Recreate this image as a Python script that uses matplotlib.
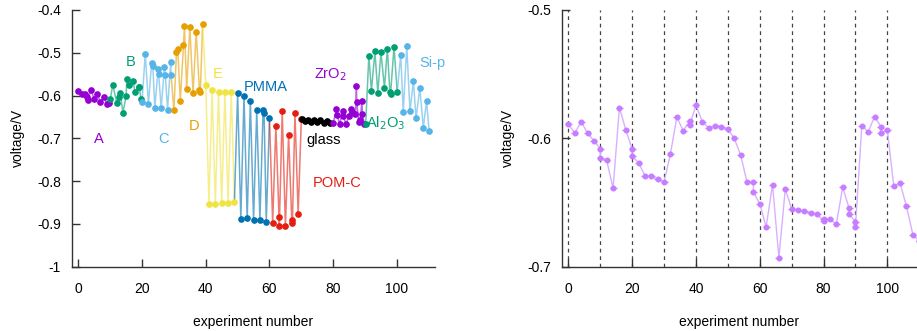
import matplotlib
matplotlib.use('Agg')
import matplotlib.pyplot as plt

plt.rcParams['font.family'] = ['Liberation Sans', 'DejaVu Sans']
plt.rcParams['axes.unicode_minus'] = False

# left panel: voltage per material (x = experiment number)
groups = ['A', 'B', 'C', 'D', 'E', 'PMMA', 'POM-C', 'glass', 'ZrO$_2$', 'Al$_2$O$_3$', 'Si-p']
colors = ['#9400d3', '#009e73', '#56b4e9', '#e69f00', '#f0e442', '#0072b2',
          '#e51e10', '#000000', '#9400d3', '#009e73', '#56b4e9']

x_A = [0, 1, 2, 2.8, 3, 4, 5, 6, 6.8, 8.2, 8.9, 9.7]
v_A = [-0.589, -0.597, -0.597, -0.603, -0.610, -0.587, -0.609, -0.596, -0.614, -0.603, -0.620, -0.617]
x_B = [10, 10.8, 12.1, 12.9, 13.1, 14, 15, 15.2, 16, 17.1, 17.8, 18.9, 19.1, 19.7]
v_B = [-0.609, -0.575, -0.618, -0.604, -0.593, -0.640, -0.601, -0.562, -0.575, -0.566, -0.591, -0.581, -0.579, -0.609]
x_C = [20, 21, 22, 23, 23.4, 24, 25, 25.2, 26, 27, 27.3, 28, 29, 29.1]
v_C = [-0.614, -0.502, -0.620, -0.523, -0.532, -0.630, -0.539, -0.550, -0.630, -0.534, -0.551, -0.633, -0.521, -0.552]
x_D = [30, 30.8, 31.2, 32, 33, 33.3, 34, 35, 36, 37, 38, 38.3, 39]
v_D = [-0.634, -0.499, -0.491, -0.613, -0.482, -0.437, -0.585, -0.439, -0.595, -0.451, -0.588, -0.591, -0.433]
x_E = [40, 41, 42, 43, 44, 45, 46, 47, 48, 49]
v_E = [-0.575, -0.853, -0.588, -0.853, -0.592, -0.852, -0.592, -0.851, -0.591, -0.848]
x_PMMA = [50, 51, 52, 53, 54, 55, 56, 57, 58, 58.3, 59, 60]
v_PMMA = [-0.593, -0.888, -0.601, -0.887, -0.613, -0.891, -0.634, -0.891, -0.634, -0.641, -0.895, -0.652]
x_POM = [61, 62, 63, 63.1, 64, 65, 66, 67, 67.2, 68, 69, 70]
v_POM = [-0.898, -0.670, -0.885, -0.904, -0.636, -0.905, -0.693, -0.892, -0.899, -0.640, -0.877, -0.655]
x_glass = [70.3, 71, 72, 73, 74, 75, 76, 77, 78, 79]
v_glass = [-0.655, -0.660, -0.656, -0.661, -0.657, -0.662, -0.658, -0.663, -0.660, -0.665]
x_ZrO2 = [80, 81, 81.2, 82, 83, 83.2, 84, 85, 85.5, 86, 87, 87.3, 87.4, 88, 88.5, 89, 89.2, 89.8]
v_ZrO2 = [-0.665, -0.632, -0.645, -0.667, -0.636, -0.647, -0.667, -0.648, -0.631, -0.639, -0.644,
          -0.577, -0.614, -0.662, -0.658, -0.613, -0.644, -0.667]
x_Al2O3 = [90.2, 91.2, 92, 93.1, 94, 95, 96.1, 97, 97.8, 98, 99.1, 100.1]
v_Al2O3 = [-0.667, -0.507, -0.589, -0.497, -0.593, -0.499, -0.582, -0.491, -0.591, -0.597, -0.486, -0.592]
x_Si = [101.2, 102, 103.1, 104.1, 105.2, 106, 107.2, 108.3, 109.3, 110.1]
v_Si = [-0.505, -0.638, -0.484, -0.636, -0.566, -0.653, -0.583, -0.675, -0.613, -0.682]

xs = [x_A, x_B, x_C, x_D, x_E, x_PMMA, x_POM, x_glass, x_ZrO2, x_Al2O3, x_Si]
vs = [v_A, v_B, v_C, v_D, v_E, v_PMMA, v_POM, v_glass, v_ZrO2, v_Al2O3, v_Si]

# label anchors (data coords)
label_x = [6.5, 16.3, 26.7, 36.4, 43.6, 58.7, 81.3, 77, 79, 96.5, 111]
label_v = [-0.701, -0.5215, -0.701, -0.671, -0.550, -0.580, -0.804, -0.704, -0.552, -0.664, -0.524]

# right panel
x_r = [0, 2, 4, 6, 8, 10, 10, 12, 14, 16, 18, 20, 20, 22, 24, 26, 28, 30, 32, 34, 36, 38, 38,
       40, 42, 44, 46, 48, 50, 52, 54, 56, 58, 58, 60, 62, 64, 66, 68, 70, 72, 74, 76, 78,
       80, 80, 82, 84, 86, 88, 88, 90, 90, 92, 94, 96, 98, 98, 100, 102, 104, 106, 108, 110]
v_r = [-0.589, -0.596, -0.587, -0.596, -0.602, -0.608, -0.6155, -0.617, -0.639, -0.576, -0.5935,
       -0.6085, -0.614, -0.619, -0.629, -0.6295, -0.632, -0.634, -0.612, -0.5835, -0.594, -0.5866,
       -0.5897, -0.5744, -0.587, -0.592, -0.590, -0.591, -0.593, -0.600, -0.613, -0.634, -0.634,
       -0.642, -0.651, -0.669, -0.636, -0.693, -0.6395, -0.655, -0.6555, -0.657, -0.658, -0.659,
       -0.6646, -0.663, -0.663, -0.667, -0.638, -0.6545, -0.659, -0.665, -0.669, -0.590, -0.595,
       -0.583, -0.591, -0.596, -0.5935, -0.637, -0.635, -0.653, -0.675, -0.680]
sep_lines = [0, 10, 20, 30, 40, 50, 60, 70, 80, 90, 100]

fig = plt.figure(figsize=(9.17, 3.31), dpi=100)
ax1 = fig.add_axes([0.0785, 0.1943, 0.396, 0.7755])
ax2 = fig.add_axes([0.6129, 0.1943, 0.3871, 0.7755])

prev = None
for i in range(len(groups)):
    lx = list(xs[i])
    lv = list(vs[i])
    if prev is not None:
        lx = [prev[0]] + lx
        lv = [prev[1]] + lv
    ax1.plot(lx, lv, '-', color=colors[i], lw=1.1, alpha=0.6, zorder=2)
    ax1.plot(xs[i], vs[i], 'o', color=colors[i], ms=3.8, zorder=3)
    prev = (xs[i][-1], vs[i][-1])
    ax1.text(label_x[i], label_v[i], groups[i], color=colors[i], fontsize=10.5,
             ha='center', va='center')

ax1.set_xlim(-2, 112)
ax1.set_ylim(-1, -0.4)
ax1.set_xticks([0, 20, 40, 60, 80, 100])
ax1.set_yticks([-1, -0.9, -0.8, -0.7, -0.6, -0.5, -0.4])
ax1.set_yticklabels(['-1', '-0.9', '-0.8', '-0.7', '-0.6', '-0.5', '-0.4'])
ax1.set_xlabel('experiment number', fontsize=10, labelpad=14)
ax1.set_ylabel('voltage/V', fontsize=10, labelpad=9)

for xv in sep_lines:
    ax2.axvline(xv, color='#444444', ls=(0, (3, 3)), lw=0.9, zorder=1)
ax2.plot(x_r, v_r, '-', color='#d8b0ff', lw=1, zorder=2)
ax2.errorbar(x_r, v_r, xerr=1.1, fmt='o', color='#c77dff', ms=3.3,
             ecolor='#c77dff', elinewidth=1, capsize=0, zorder=3)
ax2.set_xlim(-2, 109.3)
ax2.set_ylim(-0.7, -0.5)
ax2.set_xticks([0, 20, 40, 60, 80, 100])
ax2.set_yticks([-0.7, -0.6, -0.5])
ax2.set_yticklabels(['-0.7', '-0.6', '-0.5'])
ax2.set_xlabel('experiment number', fontsize=10, labelpad=14)
ax2.set_ylabel('voltage/V', fontsize=10, labelpad=9)

for ax in (ax1, ax2):
    for s in ('top', 'right'):
        ax.spines[s].set_visible(False)
    for s in ('left', 'bottom'):
        ax.spines[s].set_color('#333333')
        ax.spines[s].set_linewidth(1)
    ax.tick_params(direction='in', length=6, width=1, color='#333333',
                   labelsize=10, pad=11)
    ax.tick_params(axis='y', pad=8)

fig.savefig('out.png', dpi=100)
